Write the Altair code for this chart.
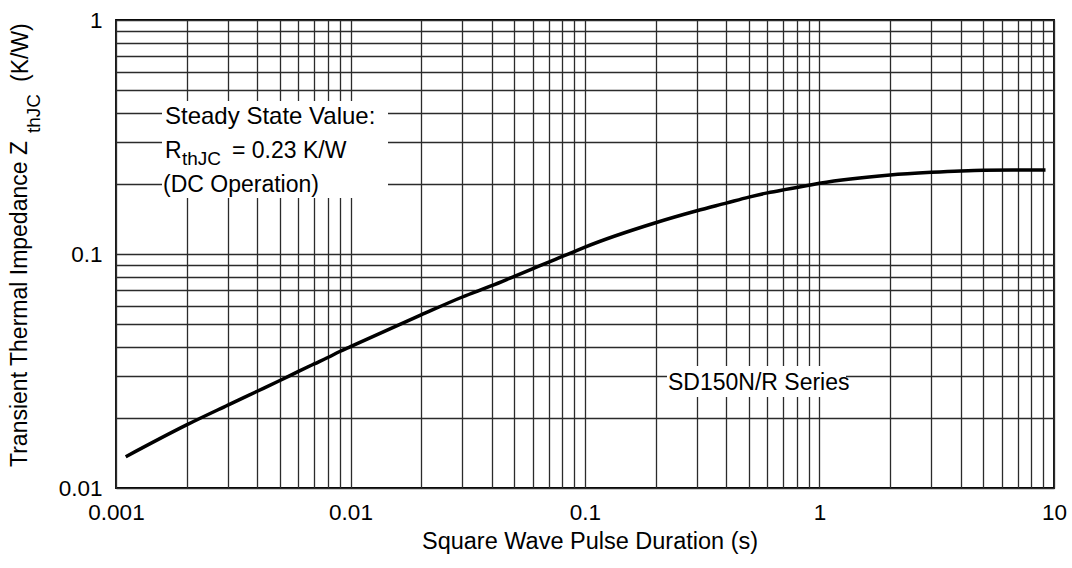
import altair as alt
import pandas as pd

# ---- data ----
pulse_s = [0.0011, 0.002, 0.003, 0.004, 0.005, 0.006, 0.007, 0.008, 0.009, 0.01,
           0.02, 0.03, 0.04, 0.05, 0.06, 0.07, 0.08, 0.09, 0.1,
           0.2, 0.3, 0.4, 0.5, 0.6, 0.7, 0.8, 0.9, 1.0,
           2.0, 3.0, 4.0, 5.0, 7.0, 9.2]
zth = [0.0136, 0.0186, 0.0226, 0.0259, 0.0288, 0.0315, 0.0339, 0.0361, 0.0383, 0.0402,
       0.0549, 0.0655, 0.0732, 0.0803, 0.0866, 0.0923, 0.0976, 0.1024, 0.107,
       0.136, 0.153, 0.165, 0.175, 0.1825, 0.188, 0.1925, 0.1967, 0.2005,
       0.2176, 0.2234, 0.2265, 0.228, 0.2285, 0.2288]

x_grid = [0.001, 0.002, 0.003, 0.004, 0.005, 0.006, 0.007, 0.008, 0.009,
          0.01, 0.02, 0.03, 0.04, 0.05, 0.06, 0.07, 0.08, 0.09,
          0.1, 0.2, 0.3, 0.4, 0.5, 0.6, 0.7, 0.8, 0.9,
          1, 2, 3, 4, 5, 6, 7, 8, 9, 10]
y_grid = [0.01, 0.02, 0.03, 0.04, 0.05, 0.06, 0.07, 0.08, 0.09,
          0.1, 0.2, 0.3, 0.4, 0.5, 0.6, 0.7, 0.8, 0.9, 1]
x_tick_values = [0.001, 0.01, 0.1, 1, 10]
x_tick_labels = ["0.001", "0.01", "0.1", "1", "10"]
y_tick_values = [0.01, 0.1, 1]
y_tick_labels = ["0.01", "0.1", "1"]

FONT = "Liberation Sans, Arial, Helvetica, sans-serif"
GRID = "#2b2b2b"


def label_expr(values, labels):
    expr = "''"
    for v, l in reversed(list(zip(values, labels))):
        expr = f"datum.value == {v} ? '{l}' : ({expr})"
    return expr


df = pd.DataFrame({"t": pulse_s, "z": zth})

common_axis = dict(grid=True, gridColor=GRID, gridWidth=1.3, ticks=False, tickSize=0,
                   domain=False, labelFont=FONT, labelColor="black",
                   labelOverlap=False, labelFlush=False, title=None)

curve = alt.Chart(df).mark_line(color="black", strokeWidth=3.5, interpolate="monotone").encode(
    x=alt.X("t:Q",
            scale=alt.Scale(type="log", domain=[0.001, 10], nice=False),
            axis=alt.Axis(values=x_grid, labelExpr=label_expr(x_tick_values, x_tick_labels),
                          labelFontSize=22.5, labelPadding=31, labelBaseline="alphabetic",
                          **common_axis)),
    y=alt.Y("z:Q",
            scale=alt.Scale(type="log", domain=[0.01, 1], nice=False),
            axis=alt.Axis(values=y_grid, labelExpr=label_expr(y_tick_values, y_tick_labels),
                          labelFontSize=22.5, labelPadding=14, **common_axis)),
)

one = alt.Data(values=[{}])


def mask(x1, x2, y1, y2):
    return alt.Chart(one).mark_rect(color="white").encode(
        x=alt.value(x1), x2=alt.value(x2), y=alt.value(y1), y2=alt.value(y2))


def txt(text, x, y, size=23, angle=0, align="left"):
    return alt.Chart(one).mark_text(text=text, font=FONT, fontSize=size, angle=angle,
                                    align=align, baseline="alphabetic", color="black").encode(
        x=alt.value(x), y=alt.value(y))


layers = [
    curve,
    mask(46, 272, 81, 178),
    mask(551, 730, 346, 377),
    txt("Steady State Value:", 49, 104, size=24),
    txt("R", 49, 138),
    txt("thJC", 66, 145, size=19),
    txt("= 0.23 K/W", 116, 138),
    txt("(DC Operation)", 47, 172),
    txt("SD150N/R Series", 552, 370),
    txt("Square Wave Pulse Duration (s)", 474, 529, size=23.5, align="center"),
    txt("Transient Thermal Impedance Z", -89, 447, size=23, angle=270),
    txt("thJC", -76, 113, size=19, angle=270),
    txt("(K/W)", -88, 62, size=23, angle=270),
]

chart = alt.layer(*layers).properties(
    width=938, height=468,
    autosize=alt.AutoSizeParams(type="none"),
    padding={"left": 116, "top": 20, "right": 18, "bottom": 80},
    background="white",
).configure_view(stroke="black", strokeWidth=1.8)

chart.save("out.html", embed_options={"renderer": "svg", "actions": False})
